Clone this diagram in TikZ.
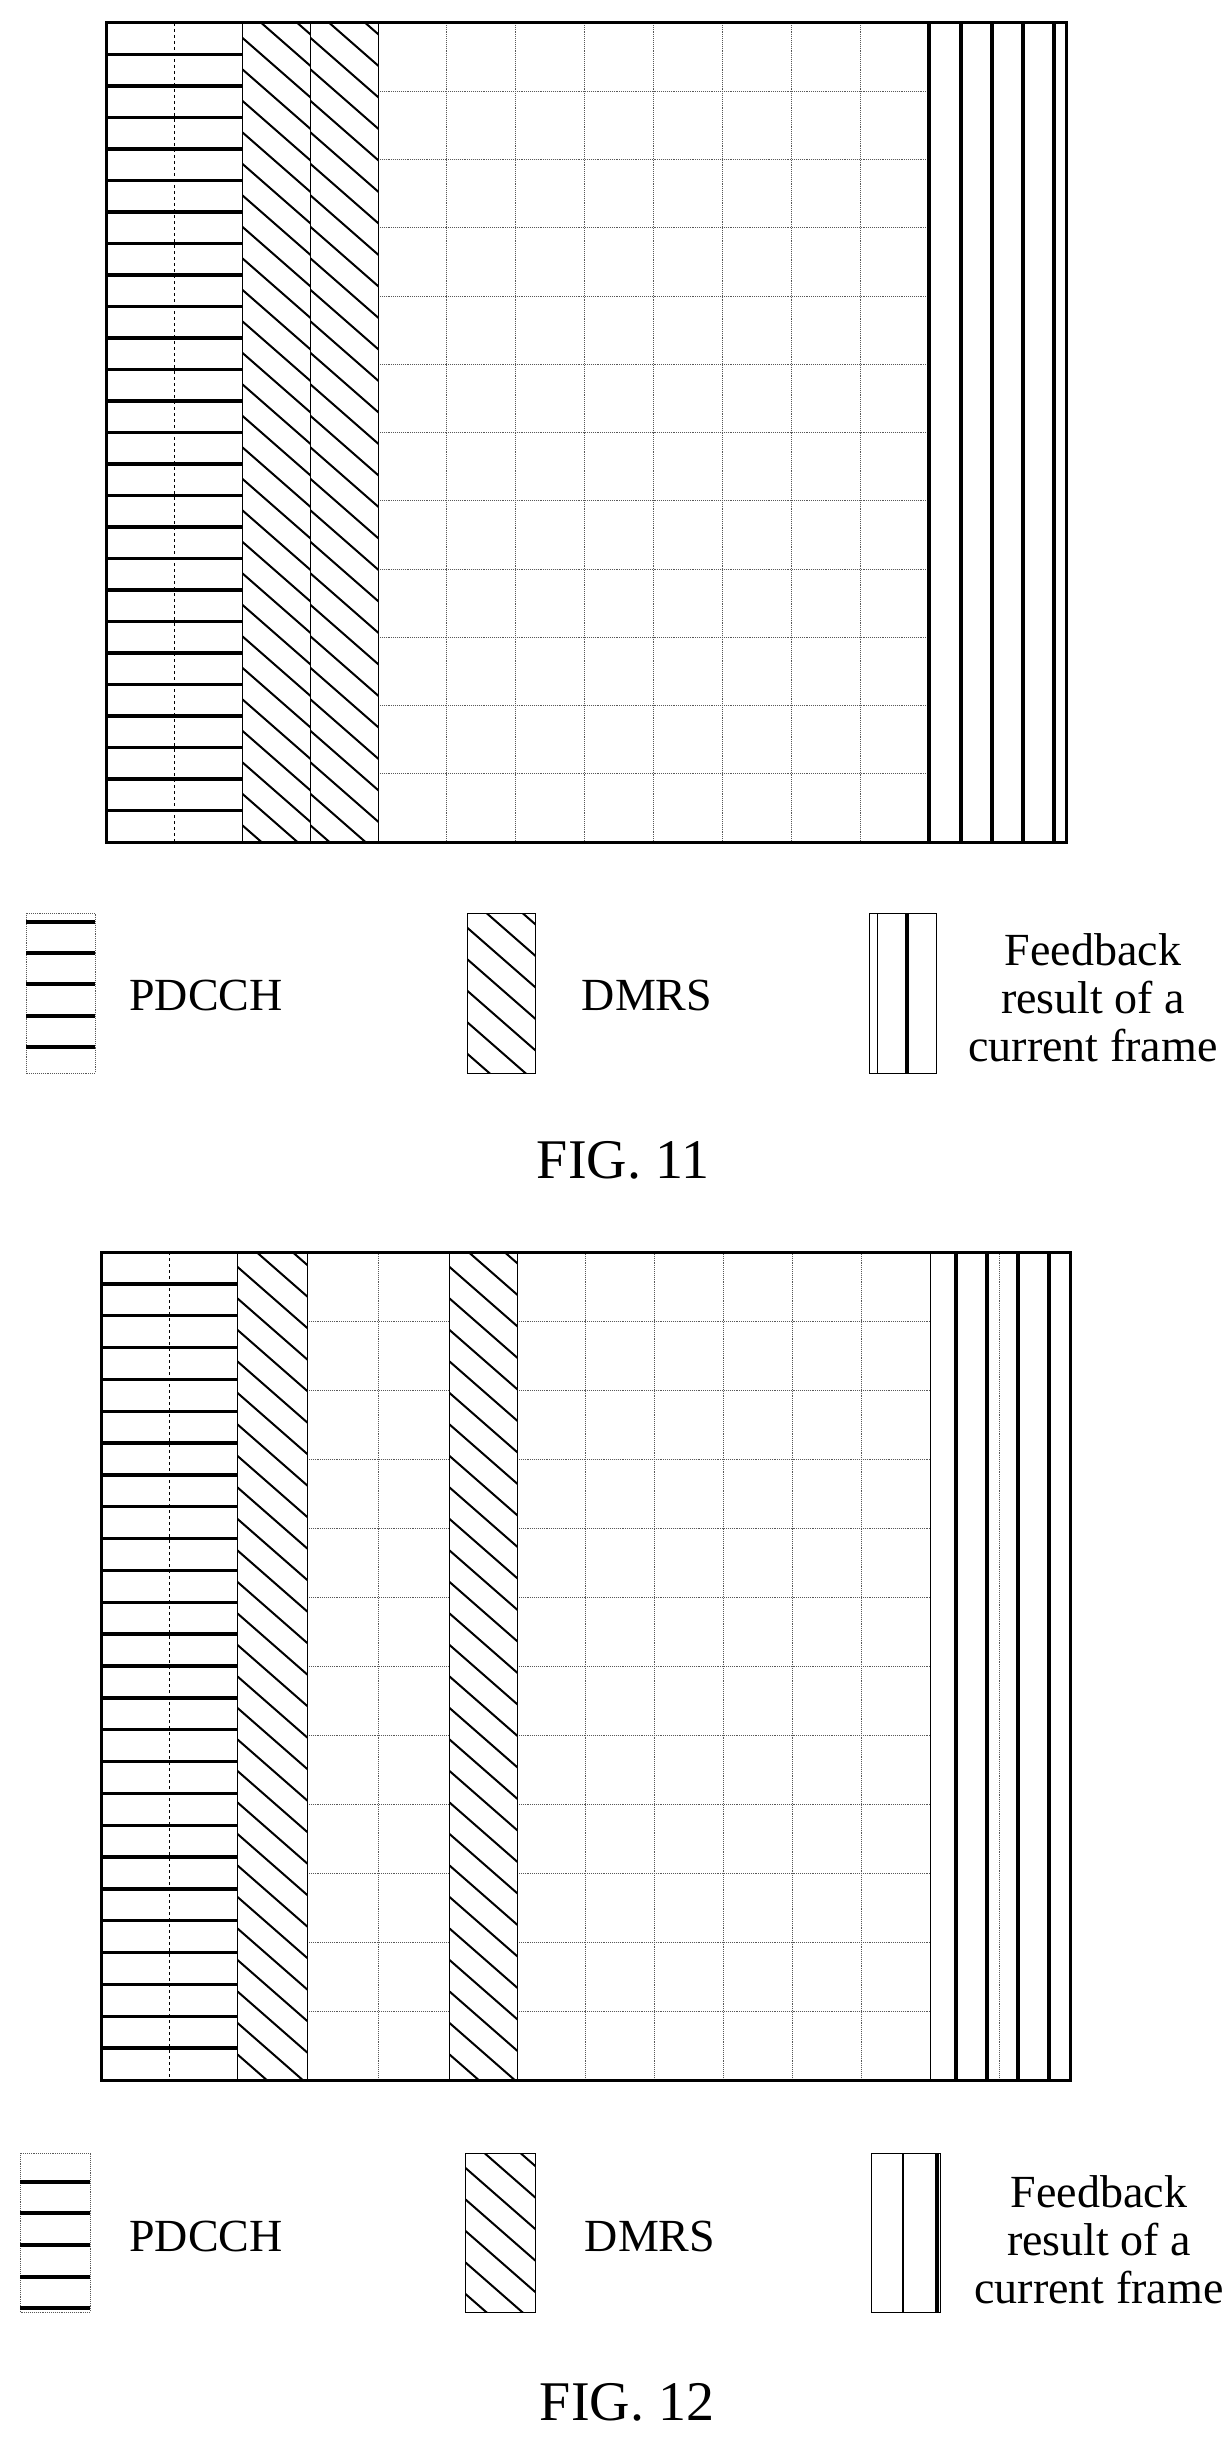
\documentclass[tikz,border=0pt]{standalone}
\usepackage{fontspec}
\setmainfont{Liberation Serif}
\newcommand{\dmrshatch}[4]{%
  \begin{scope}
    \clip (#1,#2) rectangle (#3,#4);
    \pgfmathsetmacro{\hstart}{#2-80}
    \pgfmathsetmacro{\hnext}{#2-80+31.5}
    \foreach \yy in {\hstart,\hnext,...,#4}
      \draw[hatch] (#1,\yy) -- ++(80,70);
  \end{scope}
  \draw[thin] (#1,#2) rectangle (#3,#4);
}
\newcommand{\pdcchcol}[5]{% left, top, right, bottom, number of lines
  \draw[dashed, thin] ({(#1+#3)/2},#2) -- ({(#1+#3)/2},#4);
  \foreach \k in {1,...,#5}
    \draw[pline] (#1,{#2+\k/(#5+1)*(#4-#2)}) -- (#3,{#2+\k/(#5+1)*(#4-#2)});
}
\begin{document}
\begin{tikzpicture}[x=1pt,y=-1pt,
  outer/.style={draw, line width=3pt},
  gridline/.style={densely dotted, gray!70!black, line width=0.9pt},
  pline/.style={line width=3.4pt},
  fbline/.style={line width=3.8pt},
  hatch/.style={line width=2pt},
  label/.style={font=\fontsize{46}{54}\selectfont, align=center},
  fig/.style={font=\fontsize{56}{60}\selectfont}]
  \useasboundingbox (0,0) rectangle (1231,2443);
  % FIG. 11
  \foreach \x in {1,...,7} \draw[gridline] ({378+\x*68.875},23) -- ({378+\x*68.875},842);
  \foreach \r in {1,...,11} \draw[gridline] (378,{23+\r*68.25}) -- (929,{23+\r*68.25});
  \pdcchcol{106}{23}{242}{842}{25}
  \dmrshatch{242}{23}{310}{842}
  \dmrshatch{310}{23}{378}{842}
  \foreach \x in {929,961,992,1023,1054} \draw[fbline] (\x,23) -- (\x,842);
  \draw[outer] (106,23) rectangle (1066,842);
  % legend 11
  \draw[gridline] (26,913) rectangle (95,1073);
  \foreach \yy in {922,953,984,1016,1047} \draw[pline] (26,\yy) -- (95,\yy);
  \node[label] (pdcch1) at (206,995) {PDCCH};
  \dmrshatch{467}{913}{535}{1073}
  \node[label] (dmrs1) at (647,995) {DMRS};
  \draw[thin] (869,913) rectangle (936,1073);
  \draw[thin] (877,913) -- (877,1073);
  \draw[fbline] (907,913) -- (907,1073);
  \node[label] (fb1) at (1093,998) {Feedback\\[-6pt]result of a\\[-6pt]current frame};
  \node[fig] (fig11) at (623,1160) {FIG. 11};
  % FIG. 12
  \foreach \x in {378,449,517,585.8,654.7,723.5,792.3,861.2,930}
    \draw[gridline] (\x,1252) -- (\x,2080);
  \foreach \r in {1,...,11} {
    \draw[gridline] (307,{1252+\r*69}) -- (449,{1252+\r*69});
    \draw[gridline] (517,{1252+\r*69}) -- (930,{1252+\r*69});
  }
  \pdcchcol{101}{1252}{237}{2080}{25}
  \dmrshatch{237}{1252}{307}{2080}
  \dmrshatch{449}{1252}{517}{2080}
  \draw[thin] (930,1252) -- (930,2080);
  \draw[gridline] (999,1252) -- (999,2080);
  \foreach \x in {956,987,1018,1049} \draw[fbline] (\x,1252) -- (\x,2080);
  \draw[outer] (101,1252) rectangle (1070,2080);
  % legend 12
  \draw[gridline] (20,2153) rectangle (90,2312);
  \foreach \yy in {2182,2213,2245,2277,2308} \draw[pline] (20,\yy) -- (90,\yy);
  \node[label] (pdcch2) at (206,2236) {PDCCH};
  \dmrshatch{465}{2153}{535}{2312}
  \node[label] (dmrs2) at (650,2236) {DMRS};
  \draw[thin] (871,2153) rectangle (940,2312);
  \draw[line width=1.6pt] (903,2153) -- (903,2312);
  \draw[fbline] (937,2153) -- (937,2312);
  \node[label] (fb2) at (1099,2240) {Feedback\\[-6pt]result of a\\[-6pt]current frame};
  \node[fig] (fig12) at (627,2402) {FIG. 12};
\end{tikzpicture}
\end{document}
